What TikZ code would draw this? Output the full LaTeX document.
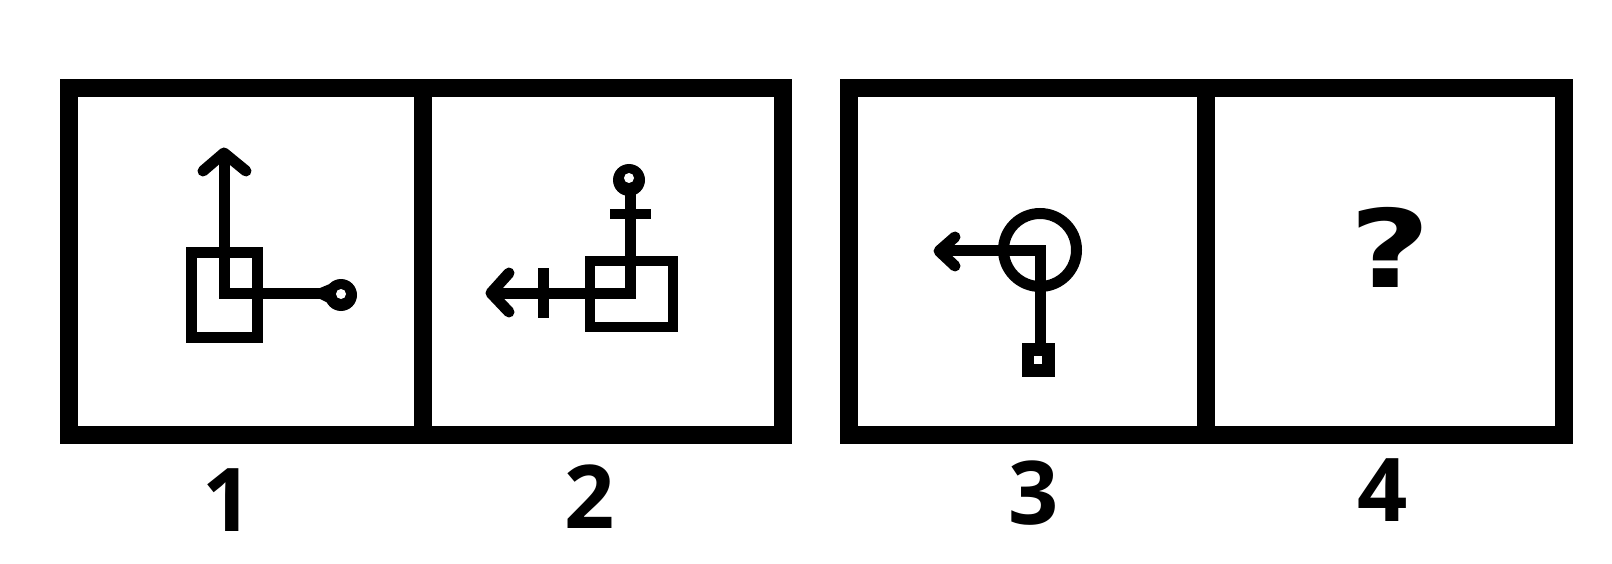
\documentclass[tikz,border=0pt]{standalone}
\usepackage{fontspec}
\setmainfont{Open Sans}
\newfontfamily\questfont{DejaVu Sans}
\usetikzlibrary{positioning}

\begin{document}
\begin{tikzpicture}[
    x=1pt, y=-1pt,
    frame/.style={draw, line width=18pt},
    glyph/.style={draw, line width=11pt},
    head/.style={draw, line width=11pt, line cap=round, line join=round},
    num/.style={font=\fontsize{88}{88}\selectfont\bfseries, inner sep=0pt},
]
\useasboundingbox (0,0) rectangle (1612,564);

% the two double frames
\draw[frame] (69,88) rectangle (783,435);
\draw[frame] (422.5,88) -- (422.5,435);
\draw[frame] (849,88) rectangle (1564,435);
\draw[frame] (1206,88) -- (1206,435);

% figure 1
\draw[glyph] (191,253) rectangle (257,337);
\draw[glyph] (224,156) -- (224,293.5) -- (330,293.5);
\draw[head] (203,171) -- (224,153) -- (246,171);
\fill (320,288) -- (332,283) -- (332,305) -- (320,299) -- cycle;
\fill (341,295) circle (16);
\fill[white] (341,294) circle (5);

% figure 2
\draw[glyph, line width=10pt] (590,261) rectangle (673,327);
\draw[glyph] (630,190) -- (630,293) -- (495,293);
\draw[glyph, line width=10pt] (610,214) -- (651,214);
\draw[glyph] (543,268) -- (543,318);
\draw[head] (509,273) -- (491,293) -- (509,312);
\fill (629,180) circle (16);
\fill[white] (629,178) circle (5);

% figure 3
\draw[glyph] (1040,250) circle (36.5);
\draw[glyph] (945,251) -- (1040,251) -- (1040,345);
\draw[head] (955,237) -- (939,251) -- (955,266);
\fill (1022,343) rectangle (1055,377);
\fill[white] (1034,356) rectangle (1042,364);

% question
\node[font=\fontsize{108}{108}\selectfont\questfont\bfseries, inner sep=0pt, xscale=1.3] (quest) at (1390,247) {?};

% labels
\node[num] (n1) at (228,500) {1};
\node[num] (n2) at (590,497) {2};
\node[num] (n3) at (1034,493) {3};
\node[num] (n4) at (1383,490) {4};
\end{tikzpicture}
\end{document}
